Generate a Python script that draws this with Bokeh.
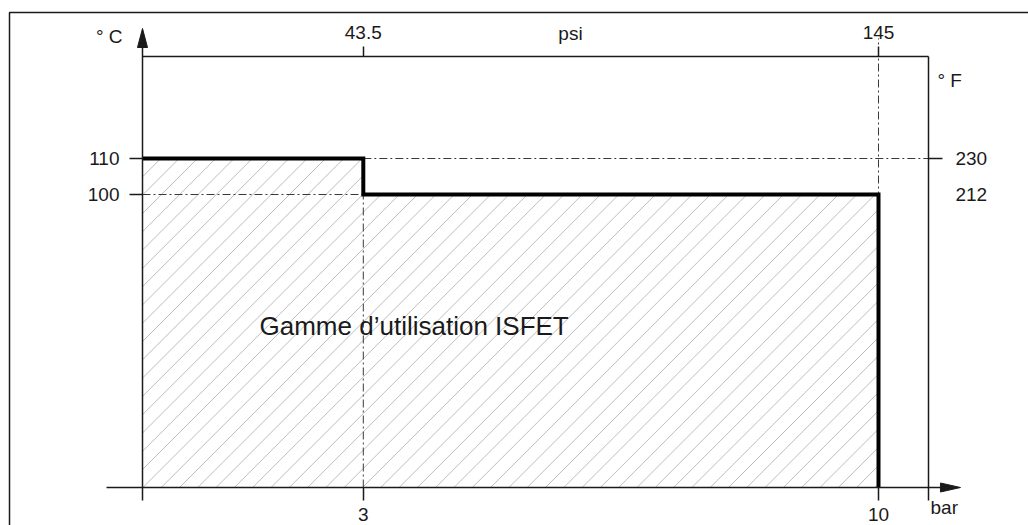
from bokeh.plotting import figure
from bokeh.models import LinearAxis, FixedTicker, Range1d, Label
from bokeh.embed import file_html
from bokeh.resources import INLINE

# ---------------- data ----------------
pressure_bar = [0, 3, 10]          # boundaries of the operating segments (bar)
max_temp_c = [110, 100]            # max temperature in each segment (°C)
bar_ticks = [3, 10]
bar_tick_labels = ["3", "10"]
psi_tick_labels = ["43.5", "145"]  # same positions as bar_ticks
celsius_ticks = [100, 110]
celsius_tick_labels = ["100", "110"]
fahrenheit_tick_labels = ["212", "230"]  # same positions as celsius_ticks
region_label = "Gamme d\u2019utilisation ISFET"

# ---------------- layout (schematic, not to scale) ----------------
FONT = "Liberation Sans"
INK = "#1a1a1a"
W, H = 1028, 525
PX_PER_BAR, PX_PER_C = 73.6, 3.6
x_start = -142 / PX_PER_BAR
x_end = x_start + W / PX_PER_BAR
y_end = 100 + 194 / PX_PER_C
y_start = y_end - H / PX_PER_C
floor_c = 18.61          # level of the pressure axis
top_c = 138.33           # level of the psi axis
right_bar = 10.679       # position of the °F axis
axis_low_c = 15.0        # lower end of the vertical axes
arrow_base_c, arrow_tip_c = 140.83, 146.11
bar_axis_left, bar_arrow_base, bar_arrow_tip = -0.489, 10.842, 11.114

p = figure(width=W, height=H, output_backend="svg", toolbar_location=None,
           x_axis_type=None, y_axis_type=None,
           x_range=Range1d(x_start, x_end), y_range=Range1d(y_start, y_end),
           min_border=0, outline_line_color=None,
           background_fill_color="white", border_fill_color="white")

# outer frame of the drawing
p.line([-1.807, -1.807, 20], [0, 150.56, 150.56], line_color=INK, line_width=1.5)

# operating range outline
step_x = [pressure_bar[0], pressure_bar[1], pressure_bar[1], pressure_bar[2], pressure_bar[2]]
step_y = [max_temp_c[0], max_temp_c[0], max_temp_c[1], max_temp_c[1], floor_c]

# 45-degree hatching of the operating range (decoration), clipped per segment
HATCH_STEP = 18.3  # px
hx, hy = [], []
segments = [(pressure_bar[i], pressure_bar[i + 1], max_temp_c[i]) for i in range(len(max_temp_c))]
u_max = pressure_bar[-1] * PX_PER_BAR
v_max = (max(max_temp_c) - floor_c) * PX_PER_C
c = -v_max
while c < u_max:
    for x0, x1, top in segments:
        u0, u1 = x0 * PX_PER_BAR, x1 * PX_PER_BAR
        v1 = (top - floor_c) * PX_PER_C
        a = max(u0, c)          # u - v = c  ->  v = u - c
        b = min(u1, v1 + c)
        if b > a:
            hx.append([a / PX_PER_BAR, b / PX_PER_BAR])
            hy.append([floor_c + (a - c) / PX_PER_C, floor_c + (b - c) / PX_PER_C])
    c += HATCH_STEP
p.multi_line(hx, hy, line_color="#bdbdbd", line_width=1)

# dash-dot reference lines
dd = dict(line_color="#3a3a3a", line_width=1, line_dash="8 3 2 3")
p.line([pressure_bar[1], right_bar], [max_temp_c[0], max_temp_c[0]], **dd)
p.line([pressure_bar[0], pressure_bar[1]], [max_temp_c[1], max_temp_c[1]], **dd)
p.line([pressure_bar[1], pressure_bar[1]], [floor_c, max_temp_c[1]], **dd)
p.line([pressure_bar[2], pressure_bar[2]], [floor_c, 143.33], **dd)

# boundary
p.line(step_x, step_y, line_color="black", line_width=4, line_join="miter")

# arrow heads
hw_x, hw_y = 0.068, 1.25
p.patches([[pressure_bar[0] - hw_x, pressure_bar[0] + hw_x, pressure_bar[0]],
           [bar_arrow_base, bar_arrow_base, bar_arrow_tip]],
          [[arrow_base_c, arrow_base_c, arrow_tip_c],
           [floor_c - hw_y, floor_c + hw_y, floor_c]],
          fill_color=INK, line_color=INK, line_width=1)

def style(ax, tick_out, standoff):
    ax.axis_line_color = INK
    ax.axis_line_width = 1.5
    ax.major_tick_line_color = INK
    ax.major_tick_line_width = 1.5
    ax.major_tick_in = 0
    ax.major_tick_out = tick_out
    ax.minor_tick_line_color = None
    ax.major_label_standoff = standoff
    ax.major_label_text_font = FONT
    ax.major_label_text_font_size = "19px"
    ax.major_label_text_color = INK

# °C axis
ax_c = LinearAxis(ticker=FixedTicker(ticks=celsius_ticks, minor_ticks=[]),
                  major_label_overrides=dict(zip(celsius_ticks, celsius_tick_labels)),
                  fixed_location=pressure_bar[0], bounds=(axis_low_c, arrow_base_c))
style(ax_c, 13, 10)
p.add_layout(ax_c, "left")

# bar axis
ax_bar = LinearAxis(ticker=FixedTicker(ticks=bar_ticks, minor_ticks=[]),
                    major_label_overrides=dict(zip(bar_ticks, bar_tick_labels)),
                    fixed_location=floor_c, bounds=(bar_axis_left, bar_arrow_base))
style(ax_bar, 13, 7)
p.add_layout(ax_bar, "below")

# psi axis
ax_psi = LinearAxis(ticker=FixedTicker(ticks=bar_ticks, minor_ticks=[]),
                    major_label_overrides=dict(zip(bar_ticks, psi_tick_labels)),
                    fixed_location=top_c, bounds=(pressure_bar[0], right_bar))
style(ax_psi, 10, 8)
p.add_layout(ax_psi, "above")

# °F axis (230 with a tick, 212 without)
ax_f_hi = LinearAxis(ticker=FixedTicker(ticks=[celsius_ticks[1]], minor_ticks=[]),
                     major_label_overrides={celsius_ticks[1]: fahrenheit_tick_labels[1]},
                     fixed_location=right_bar, bounds=(axis_low_c, top_c))
style(ax_f_hi, 14, 13)
p.add_layout(ax_f_hi, "right")
ax_f_lo = LinearAxis(ticker=FixedTicker(ticks=[celsius_ticks[0]], minor_ticks=[]),
                     major_label_overrides={celsius_ticks[0]: fahrenheit_tick_labels[0]},
                     fixed_location=right_bar)
style(ax_f_lo, 0, 27)
ax_f_lo.axis_line_color = None
p.add_layout(ax_f_lo, "right")

# unit labels
lab = dict(text_font=FONT, text_font_size="19px", text_color=INK, text_baseline="bottom")
p.add_layout(Label(x=-0.272, y=141.11, text="\u00b0 C", text_align="right", **lab))
p.add_layout(Label(x=10.80, y=128.75, text="\u00b0 F", text_align="left", **lab))
p.add_layout(Label(x=5.815, y=141.67, text="psi", text_align="center", **lab))
p.add_layout(Label(x=10.707, y=10.19, text="bar", text_align="left", **lab))
p.add_layout(Label(x=1.59, y=59.17, text=region_label, text_align="left",
                   text_font=FONT, text_font_size="26px", text_color=INK,
                   text_baseline="bottom"))

open("out.html", "w").write(file_html(p, INLINE))
